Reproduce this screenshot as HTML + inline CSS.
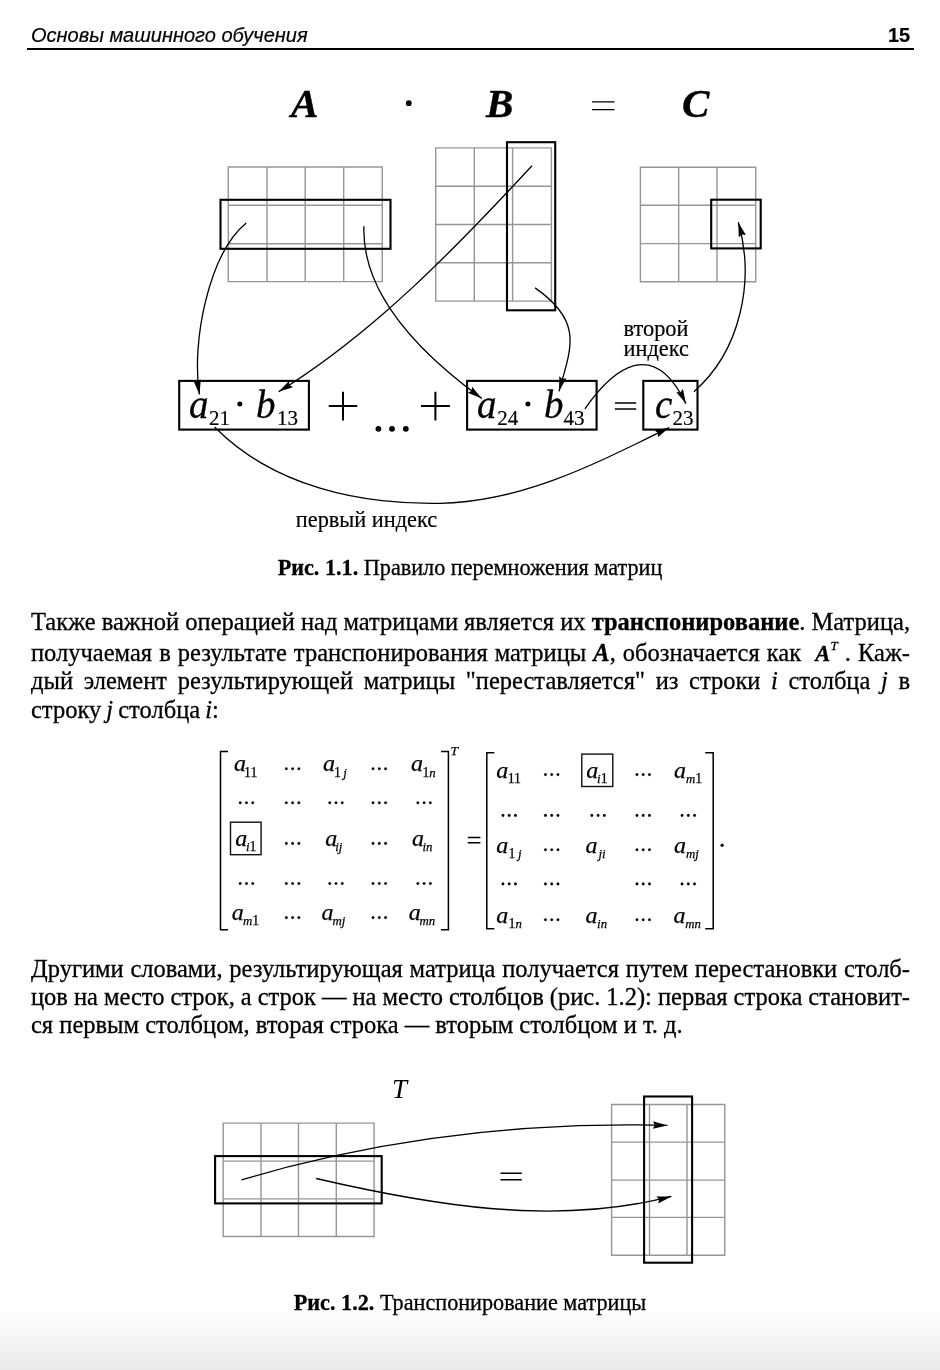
<!DOCTYPE html>
<html lang="ru">
<head>
<meta charset="utf-8">
<title>Основы машинного обучения — 15</title>
<style>
html,body{margin:0;padding:0;}
body{width:940px;height:1370px;position:relative;overflow:hidden;background:#fff;color:#000;
  font-family:"Liberation Serif",serif;}
.abs{position:absolute;white-space:nowrap;}
.hdr{font-family:"Liberation Sans",sans-serif;font-size:20px;line-height:22px;}
#hl{left:31px;top:24px;font-style:italic;}
#hr{right:29.3px;top:24px;font-weight:bold;}
#rule{position:absolute;left:27px;width:886.5px;top:48px;height:2.3px;background:#000;}
.ln{position:absolute;left:30.5px;width:879px;font-size:24.5px;line-height:28px;height:28px;
  text-align:justify;text-align-last:justify;white-space:nowrap;}
.ln.last{text-align-last:left;}
.cap{position:absolute;left:0;width:940px;text-align:center;font-size:22.2px;line-height:26px;white-space:nowrap;}
#fade{position:absolute;left:0;top:1308px;width:940px;height:62px;
  background:linear-gradient(to bottom,#ffffff,#f6f6f6 45%,#e9e9e9);}
svg{position:absolute;left:0;top:0;}
body>*{will-change:transform;}
.ln,.cap{-webkit-text-stroke:0.3px #000;}
.hdr{-webkit-text-stroke:0.2px #000;}
</style>
</head>
<body>
<div id="fade"></div>
<div class="abs hdr" id="hl">Основы машинного обучения</div>
<div class="abs hdr" id="hr">15</div>
<div id="rule"></div>


<svg id="fig1" width="940" height="545" viewBox="0 0 940 545">
<defs>
<marker id="ah" viewBox="-16 -5 17 10" markerWidth="17" markerHeight="10" refX="0" refY="0" orient="auto" markerUnits="userSpaceOnUse">
<path d="M0,0 L-14.5,-3.7 L-12.7,0 L-14.5,3.7 Z" fill="#000"/>
</marker>
</defs>
<g font-family="Liberation Serif, serif" font-style="italic" font-weight="bold" font-size="41" stroke="#000" stroke-width="0.4">
<text x="291" y="117.2">A</text>
<text x="486" y="117.2">B</text>
<text x="682" y="117.2">C</text>
</g>
<circle cx="408.8" cy="103.2" r="2.9"/>
<g stroke="#000" stroke-width="1.4" fill="none">
<path d="M592,101.9H614.5M592,109.6H614.5"/>
</g>
<!-- grids -->
<g stroke="#969696" stroke-width="1.4" fill="none" stroke-linecap="square">
<path d="M228.3,167H382.3M228.3,205.2H382.3M228.3,243.7H382.3M228.3,281.6H382.3M228.3,167V281.6M267,167V281.6M305.2,167V281.6M343.7,167V281.6M382.3,167V281.6"/>
<path d="M435.7,147.9H551.4M435.7,186.2H551.4M435.7,224.5H551.4M435.7,262.8H551.4M435.7,301.1H551.4M435.7,147.9V301.1M474.3,147.9V301.1M512.6,147.9V301.1M551.4,147.9V301.1"/>
<path d="M640.4,167.2H755.7M640.4,205.3H755.7M640.4,243.6H755.7M640.4,281.7H755.7M640.4,167.2V281.7M678.7,167.2V281.7M717,167.2V281.7M755.7,167.2V281.7"/>
</g>
<g stroke="#000" stroke-width="2.1" fill="none">
<rect x="220.5" y="199.8" width="170" height="49"/>
<rect x="507" y="142.2" width="48.2" height="168.1"/>
<rect x="711.2" y="199.7" width="49.5" height="48.7"/>
<rect x="179.2" y="380.9" width="129.7" height="48.7"/>
<rect x="467.1" y="380.9" width="129.5" height="48.7"/>
<rect x="643.3" y="380.9" width="54.2" height="48.7"/>
</g>
<!-- formula -->
<g font-family="Liberation Serif, serif" font-style="italic" font-size="39" stroke="#000" stroke-width="0.3">
<text x="189" y="418">a</text>
<text x="256" y="418">b</text>
<text x="477" y="418">a</text>
<text x="544" y="418">b</text>
<text x="655" y="418">c</text>
</g>
<g font-family="Liberation Serif, serif" font-size="21" stroke="#000" stroke-width="0.2">
<text x="209" y="424.7">21</text>
<text x="277" y="424.7">13</text>
<text x="497.3" y="424.7">24</text>
<text x="563.5" y="424.7">43</text>
<text x="672.5" y="424.7">23</text>
</g>
<circle cx="239.8" cy="403.9" r="2.5"/>
<circle cx="527.9" cy="403.9" r="2.5"/>
<g stroke="#000" stroke-width="2" fill="none">
<path d="M328.7,406.1H357.3M343,391.8V420.4"/>
<path d="M421,406.1H449.9M435.4,391.8V420.4"/>
</g>
<circle cx="378.4" cy="428.8" r="2.9"/><circle cx="392" cy="428.8" r="2.9"/><circle cx="405.8" cy="428.8" r="2.9"/>
<g stroke="#000" stroke-width="1.5" fill="none">
<path d="M614.9,402.9H636.2M614.9,408.9H636.2"/>
</g>
<g font-family="Liberation Serif, serif" font-size="22.3" stroke="#000" stroke-width="0.2">
<text x="623.6" y="335.8">второй</text>
<text x="623.6" y="356.4">индекс</text>
<text x="295.8" y="526.7">первый индекс</text>
</g>
<!-- arrows -->
<g stroke="#000" stroke-width="1.3" fill="none" marker-end="url(#ah)">
<path id="c1" d="M246.2,223.0 C209.1,253.6 191.2,340.9 199.4,394.4"/>
<path id="c2" d="M363.9,226.2 C361.4,297.8 427.2,358.7 481.7,398.4"/>
<path id="c3" d="M532.0,165.7 C455.9,247.8 375.0,332.0 278.6,391.8"/>
<path id="c4" d="M535.1,287.9 C583.5,321.8 571.4,346.7 559.0,391.3"/>
<path id="c5" d="M584.9,408.8 C613.8,367.7 653.7,336.7 685.9,403.6"/>
<path id="c6" d="M693.9,391.7 C740.7,350.9 755.1,280.5 738.3,222.2"/>
<path id="c7" d="M214.6,427.0 C273.1,486.2 359.6,504.8 440.0,503.3 C523.0,501.7 595.1,464.0 669.3,427.5"/>
</g>
</svg>

<div class="cap" id="cap1" style="top:555px"><b>Рис. 1.1.</b> Правило перемножения матриц</div>

<div class="ln" id="p1l1" style="top:608px;word-spacing:-0.1px">Также важной операцией над матрицами является их <b>транспонирование</b>. Матрица,</div>
<div class="ln" id="p1l2" style="top:639px">получаемая в результате транспонирования матрицы <b><i>A</i></b>, обозначается как &nbsp;<b><i style="font-size:22.5px">A</i></b><i style="font-size:13px;position:relative;top:-11px;margin-left:0.3px">T</i> . Каж-</div>
<div class="ln" id="p1l3" style="top:667px">дый элемент результирующей матрицы "переставляется" из строки <i>i</i> столбца <i>j</i> в</div>
<div class="ln last" id="p1l4" style="top:696px;word-spacing:-1px">строку <i>j</i> столбца <i>i</i>:</div>

<svg id="mtx" width="940" height="220" viewBox="0 735 940 220" style="top:735px">
<g font-family="Liberation Serif, serif" fill="#000" stroke="#000" stroke-width="0.25">
<text x="233.9" y="771.2" font-size="24" font-style="italic">a</text><text x="244.0" y="776.5" font-size="12.8"><tspan font-size="13.8">11</tspan></text>
<text x="323.0" y="771.2" font-size="24" font-style="italic">a</text><text x="333.9" y="776.5" font-size="12.8"><tspan font-size="13.8">1</tspan><tspan font-style="italic"> j</tspan></text>
<text x="411.0" y="771.2" font-size="24" font-style="italic">a</text><text x="422.4" y="776.5" font-size="12.8"><tspan font-size="13.8">1</tspan><tspan font-style="italic">n</tspan></text>
<text x="235.3" y="845.9" font-size="24" font-style="italic">a</text><text x="246.0" y="851.2" font-size="12.8"><tspan font-style="italic">i</tspan><tspan font-size="13.8">1</tspan></text>
<text x="325.2" y="845.9" font-size="24" font-style="italic">a</text><text x="335.2" y="851.2" font-size="12.8"><tspan font-style="italic">ij</tspan></text>
<text x="412.1" y="845.9" font-size="24" font-style="italic">a</text><text x="422.4" y="851.2" font-size="12.8"><tspan font-style="italic">in</tspan></text>
<text x="231.7" y="919.8" font-size="24" font-style="italic">a</text><text x="243.1" y="925.1" font-size="12.8"><tspan font-style="italic">m</tspan><tspan font-size="13.8">1</tspan></text>
<text x="321.6" y="919.8" font-size="24" font-style="italic">a</text><text x="332.5" y="925.1" font-size="12.8"><tspan font-style="italic">mj</tspan></text>
<text x="408.8" y="919.8" font-size="24" font-style="italic">a</text><text x="419.6" y="925.1" font-size="12.8"><tspan font-style="italic">mn</tspan></text>
<circle cx="286.35" cy="768.7" r="1.3"/><circle cx="292.60" cy="768.7" r="1.3"/><circle cx="298.85" cy="768.7" r="1.3"/>
<circle cx="373.05" cy="768.7" r="1.3"/><circle cx="379.30" cy="768.7" r="1.3"/><circle cx="385.55" cy="768.7" r="1.3"/>
<circle cx="240.25" cy="802.8" r="1.3"/><circle cx="246.50" cy="802.8" r="1.3"/><circle cx="252.75" cy="802.8" r="1.3"/>
<circle cx="286.35" cy="802.8" r="1.3"/><circle cx="292.60" cy="802.8" r="1.3"/><circle cx="298.85" cy="802.8" r="1.3"/>
<circle cx="329.75" cy="802.8" r="1.3"/><circle cx="336.00" cy="802.8" r="1.3"/><circle cx="342.25" cy="802.8" r="1.3"/>
<circle cx="373.05" cy="802.8" r="1.3"/><circle cx="379.30" cy="802.8" r="1.3"/><circle cx="385.55" cy="802.8" r="1.3"/>
<circle cx="417.85" cy="802.8" r="1.3"/><circle cx="424.10" cy="802.8" r="1.3"/><circle cx="430.35" cy="802.8" r="1.3"/>
<circle cx="286.35" cy="843.4" r="1.3"/><circle cx="292.60" cy="843.4" r="1.3"/><circle cx="298.85" cy="843.4" r="1.3"/>
<circle cx="373.05" cy="843.4" r="1.3"/><circle cx="379.30" cy="843.4" r="1.3"/><circle cx="385.55" cy="843.4" r="1.3"/>
<circle cx="240.25" cy="883.5" r="1.3"/><circle cx="246.50" cy="883.5" r="1.3"/><circle cx="252.75" cy="883.5" r="1.3"/>
<circle cx="286.35" cy="883.5" r="1.3"/><circle cx="292.60" cy="883.5" r="1.3"/><circle cx="298.85" cy="883.5" r="1.3"/>
<circle cx="329.75" cy="883.5" r="1.3"/><circle cx="336.00" cy="883.5" r="1.3"/><circle cx="342.25" cy="883.5" r="1.3"/>
<circle cx="373.05" cy="883.5" r="1.3"/><circle cx="379.30" cy="883.5" r="1.3"/><circle cx="385.55" cy="883.5" r="1.3"/>
<circle cx="417.85" cy="883.5" r="1.3"/><circle cx="424.10" cy="883.5" r="1.3"/><circle cx="430.35" cy="883.5" r="1.3"/>
<circle cx="286.35" cy="917.6" r="1.3"/><circle cx="292.60" cy="917.6" r="1.3"/><circle cx="298.85" cy="917.6" r="1.3"/>
<circle cx="373.05" cy="917.6" r="1.3"/><circle cx="379.30" cy="917.6" r="1.3"/><circle cx="385.55" cy="917.6" r="1.3"/>
<text x="496.2" y="777.5" font-size="24" font-style="italic">a</text><text x="507.7" y="782.8" font-size="12.8"><tspan font-size="13.8">11</tspan></text>
<text x="586.2" y="777.5" font-size="24" font-style="italic">a</text><text x="597.1" y="782.8" font-size="12.8"><tspan font-style="italic">i</tspan><tspan font-size="13.8">1</tspan></text>
<text x="674.1" y="777.5" font-size="24" font-style="italic">a</text><text x="685.9" y="782.8" font-size="12.8"><tspan font-style="italic">m</tspan><tspan font-size="13.8">1</tspan></text>
<text x="496.2" y="852.9" font-size="24" font-style="italic">a</text><text x="508.6" y="858.2" font-size="12.8"><tspan font-size="13.8">1</tspan><tspan font-style="italic"> j</tspan></text>
<text x="585.6" y="852.9" font-size="24" font-style="italic">a</text><text x="598.5" y="858.2" font-size="12.8"><tspan font-style="italic">ji</tspan></text>
<text x="674.1" y="852.9" font-size="24" font-style="italic">a</text><text x="685.9" y="858.2" font-size="12.8"><tspan font-style="italic">mj</tspan></text>
<text x="496.2" y="922.6" font-size="24" font-style="italic">a</text><text x="508.6" y="927.9" font-size="12.8"><tspan font-size="13.8">1</tspan><tspan font-style="italic">n</tspan></text>
<text x="585.6" y="922.6" font-size="24" font-style="italic">a</text><text x="597.1" y="927.9" font-size="12.8"><tspan font-style="italic">in</tspan></text>
<text x="673.5" y="922.6" font-size="24" font-style="italic">a</text><text x="685.3" y="927.9" font-size="12.8"><tspan font-style="italic">mn</tspan></text>
<circle cx="545.45" cy="774.6" r="1.3"/><circle cx="551.70" cy="774.6" r="1.3"/><circle cx="557.95" cy="774.6" r="1.3"/>
<circle cx="636.95" cy="774.6" r="1.3"/><circle cx="643.20" cy="774.6" r="1.3"/><circle cx="649.45" cy="774.6" r="1.3"/>
<circle cx="502.95" cy="815.4" r="1.3"/><circle cx="509.20" cy="815.4" r="1.3"/><circle cx="515.45" cy="815.4" r="1.3"/>
<circle cx="545.45" cy="815.4" r="1.3"/><circle cx="551.70" cy="815.4" r="1.3"/><circle cx="557.95" cy="815.4" r="1.3"/>
<circle cx="591.85" cy="815.4" r="1.3"/><circle cx="598.10" cy="815.4" r="1.3"/><circle cx="604.35" cy="815.4" r="1.3"/>
<circle cx="636.95" cy="815.4" r="1.3"/><circle cx="643.20" cy="815.4" r="1.3"/><circle cx="649.45" cy="815.4" r="1.3"/>
<circle cx="682.05" cy="815.4" r="1.3"/><circle cx="688.30" cy="815.4" r="1.3"/><circle cx="694.55" cy="815.4" r="1.3"/>
<circle cx="545.45" cy="849.7" r="1.3"/><circle cx="551.70" cy="849.7" r="1.3"/><circle cx="557.95" cy="849.7" r="1.3"/>
<circle cx="636.95" cy="849.7" r="1.3"/><circle cx="643.20" cy="849.7" r="1.3"/><circle cx="649.45" cy="849.7" r="1.3"/>
<circle cx="502.95" cy="883.9" r="1.3"/><circle cx="509.20" cy="883.9" r="1.3"/><circle cx="515.45" cy="883.9" r="1.3"/>
<circle cx="545.45" cy="883.9" r="1.3"/><circle cx="551.70" cy="883.9" r="1.3"/><circle cx="557.95" cy="883.9" r="1.3"/>
<circle cx="636.95" cy="883.9" r="1.3"/><circle cx="643.20" cy="883.9" r="1.3"/><circle cx="649.45" cy="883.9" r="1.3"/>
<circle cx="682.05" cy="883.9" r="1.3"/><circle cx="688.30" cy="883.9" r="1.3"/><circle cx="694.55" cy="883.9" r="1.3"/>
<circle cx="545.45" cy="919.7" r="1.3"/><circle cx="551.70" cy="919.7" r="1.3"/><circle cx="557.95" cy="919.7" r="1.3"/>
<circle cx="636.95" cy="919.7" r="1.3"/><circle cx="643.20" cy="919.7" r="1.3"/><circle cx="649.45" cy="919.7" r="1.3"/>
<text x="450.4" y="755.4" font-size="13.5" font-style="italic">T</text>
<circle cx="722.1" cy="845.2" r="1.5"/>
</g>
<g stroke="#000" stroke-width="1.5" fill="none">
<path d="M228,751.5H220.5V929.7H228"/>
<path d="M441,751.5H448.4V929.7H441"/>
<path d="M494.3,752.7H486.8V928.8H494.3"/>
<path d="M705.2,752.7H713.2V928.8H705.2"/>
</g>
<g stroke="#000" stroke-width="1.5" fill="none">
<path d="M467.8,837.5H480.4M467.8,842.8H480.4"/>
</g>
<g stroke="#111" stroke-width="1.4" fill="none">
<rect x="230.5" y="822.2" width="30.6" height="32.5"/>
<rect x="581.8" y="754.1" width="31" height="32.4"/>
</g>
</svg>
<div class="ln" id="p2l1" style="top:955.4px">Другими словами, результирующая матрица получается путем перестановки столб-</div>
<div class="ln" id="p2l2" style="top:983.4px;word-spacing:-0.25px">цов на место строк, а строк — на место столбцов (рис. 1.2): первая строка становит-</div>
<div class="ln last" id="p2l3" style="top:1011.4px">ся первым столбцом, вторая строка — вторым столбцом и т. д.</div>

<svg id="fig2" width="940" height="220" viewBox="0 1065 940 220" style="top:1065px">
<text x="392" y="1098.1" font-family="Liberation Serif, serif" font-style="italic" font-size="27">T</text>
<g stroke="#969696" stroke-width="1.4" fill="none" stroke-linecap="square">
<path d="M223.2,1123.1H374.1M223.2,1161.1H374.1M223.2,1198.9H374.1M223.2,1236.5H374.1M223.2,1123.1V1236.5M261,1123.1V1236.5M298.5,1123.1V1236.5M336.3,1123.1V1236.5M374.1,1123.1V1236.5"/>
<path d="M611.6,1104.5H724.8M611.6,1142.1H724.8M611.6,1180.1H724.8M611.6,1217.4H724.8M611.6,1255.3H724.8M611.6,1104.5V1255.3M649.5,1104.5V1255.3M687,1104.5V1255.3M724.8,1104.5V1255.3"/>
</g>
<g stroke="#000" stroke-width="2.1" fill="none">
<rect x="215.1" y="1156.1" width="166.6" height="47.3"/>
<rect x="644.1" y="1096.5" width="48" height="166.2"/>
</g>
<g stroke="#000" stroke-width="1.5" fill="none">
<path d="M500.5,1173.3H521.8M500.5,1179.7H521.8"/>
</g>
<g stroke="#000" stroke-width="1.3" fill="none" marker-end="url(#ah)">
<path id="cA" d="M241.4,1179.8 C378.5,1139.1 523.6,1121.7 667.4,1125.4"/>
<path id="cB" d="M316.2,1178.5 C431.7,1205.3 554.6,1226.4 671.4,1196.4"/>
</g>
</svg>
<div class="cap" id="cap2" style="top:1289.6px"><b>Рис. 1.2.</b> Транспонирование матрицы</div>

</body>
</html>
